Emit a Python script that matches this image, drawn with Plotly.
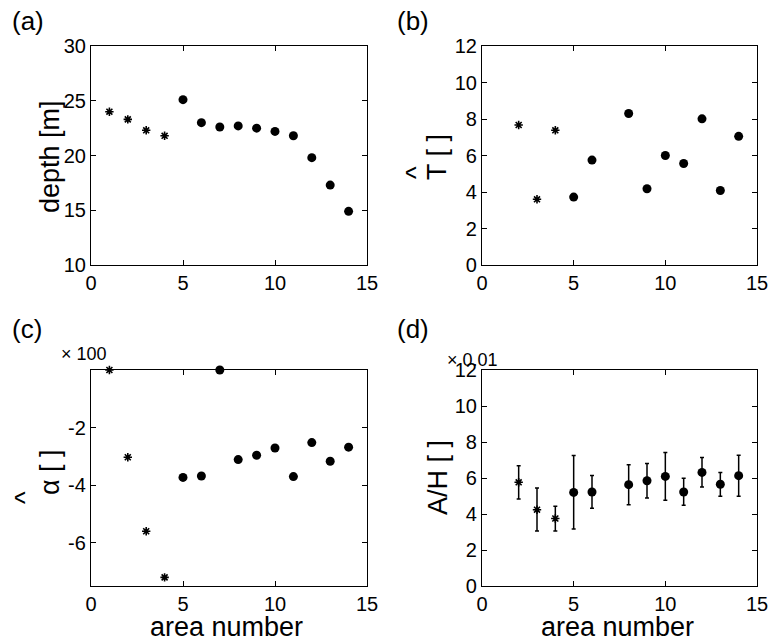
import plotly.graph_objects as go

# ---------------- data ----------------
area_a_star = [1, 2, 3, 4]
depth_star = [24.0, 23.3, 22.3, 21.8]
area_a_dot = [5, 6, 7, 8, 9, 10, 11, 12, 13, 14]
depth_dot = [25.1, 23.0, 22.6, 22.7, 22.5, 22.2, 21.8, 19.8, 17.3, 14.9]

area_b_star = [2, 3, 4]
T_star = [7.67, 3.6, 7.38]
area_b_dot = [5, 6, 8, 9, 10, 11, 12, 13, 14]
T_dot = [3.72, 5.75, 8.3, 4.18, 6.0, 5.56, 8.01, 4.08, 7.05]

area_c_star = [1, 2, 3, 4]
alpha_star = [0.0, -3.03, -5.6, -7.2]
area_c_dot = [5, 6, 7, 8, 9, 10, 11, 12, 13, 14]
alpha_dot = [-3.73, -3.68, 0.0, -3.11, -2.96, -2.71, -3.7, -2.52, -3.17, -2.68]

area_d_star = [2, 3, 4]
AH_star = [5.76, 4.24, 3.75]
AH_star_up = [0.92, 1.2, 0.68]
AH_star_dn = [0.93, 1.18, 0.69]
area_d_dot = [5, 6, 8, 9, 10, 11, 12, 13, 14]
AH_dot = [5.2, 5.22, 5.63, 5.85, 6.09, 5.22, 6.31, 5.65, 6.13]
AH_dot_up = [2.05, 0.92, 1.1, 0.96, 1.33, 0.76, 0.83, 0.66, 1.14]
AH_dot_dn = [2.04, 0.9, 1.11, 0.96, 1.33, 0.74, 0.81, 0.67, 1.15]

x_ticks = [0, 5, 10, 15]
alpha_ticks = [-6, -4, -2]
alpha_ticklabels = ["-6", "-4", "-2"]

W, H = 770, 641
FONT = "Liberation Sans, Arial, Helvetica, sans-serif"

def px(x):
    return x / W

def py(y):
    return 1 - y / H

fig = go.Figure()

star_marker = dict(symbol="asterisk-open", size=7, color="black",
                   line=dict(color="black", width=1.6))
dot_marker = dict(symbol="circle", size=9, color="black",
                  line=dict(color="black", width=0))

def add_pair(xs, ys, xd, yd, xa, ya, err=None):
    kw_s, kw_d = {}, {}
    if err is not None:
        su, sd, du, dd = err
        kw_s["error_y"] = dict(type="data", symmetric=False, array=su, arrayminus=sd,
                               color="black", thickness=1.5, width=2)
        kw_d["error_y"] = dict(type="data", symmetric=False, array=du, arrayminus=dd,
                               color="black", thickness=1.5, width=2)
    fig.add_trace(go.Scatter(x=xs, y=ys, mode="markers", marker=star_marker,
                             xaxis=xa, yaxis=ya, cliponaxis=False, showlegend=False, **kw_s))
    fig.add_trace(go.Scatter(x=xd, y=yd, mode="markers", marker=dot_marker,
                             xaxis=xa, yaxis=ya, cliponaxis=False, showlegend=False, **kw_d))

add_pair(area_a_star, depth_star, area_a_dot, depth_dot, "x", "y")
add_pair(area_b_star, T_star, area_b_dot, T_dot, "x2", "y2")
add_pair(area_c_star, alpha_star, area_c_dot, alpha_dot, "x3", "y3")
add_pair(area_d_star, AH_star, area_d_dot, AH_dot, "x4", "y4",
         err=(AH_star_up, AH_star_dn, AH_dot_up, AH_dot_dn))

left_dom = [px(91), px(367)]
right_dom = [px(482), px(757)]
top_dom = [py(265), py(46)]
bot_dom = [py(586), py(370)]

ax_common = dict(showgrid=False, zeroline=False, showline=True, linecolor="black",
                 linewidth=1.2, mirror="allticks", ticks="inside", ticklen=5,
                 tickcolor="black", tickwidth=1, automargin=False,
                 tickfont=dict(family=FONT, size=20, color="black"))

xax = dict(range=[0, 15], tickvals=x_ticks, **ax_common)

fig.update_layout(
    width=W, height=H,
    margin=dict(l=0, r=0, t=0, b=0, autoexpand=False),
    paper_bgcolor="white", plot_bgcolor="white",
    font=dict(family=FONT, color="black"),
    xaxis=dict(domain=left_dom, anchor="y", **xax),
    yaxis=dict(domain=top_dom, anchor="x", range=[10, 30],
               tickvals=[10, 15, 20, 25, 30], **ax_common),
    xaxis2=dict(domain=right_dom, anchor="y2", **xax),
    yaxis2=dict(domain=top_dom, anchor="x2", range=[0, 12],
                tickvals=[0, 2, 4, 6, 8, 10, 12], **ax_common),
    xaxis3=dict(domain=left_dom, anchor="y3", **xax),
    yaxis3=dict(domain=bot_dom, anchor="x3", range=[-7.5, 0],
                tickvals=alpha_ticks, ticktext=alpha_ticklabels, **ax_common),
    xaxis4=dict(domain=right_dom, anchor="y4", **xax),
    yaxis4=dict(domain=bot_dom, anchor="x4", range=[0, 12],
                tickvals=[0, 2, 4, 6, 8, 10, 12], **ax_common),
)

def ann(text, x, y, size, angle=0, xanchor="center", yanchor="middle"):
    fig.add_annotation(text=text, x=px(x), y=py(y), xref="paper", yref="paper",
                       showarrow=False, textangle=angle, xanchor=xanchor, yanchor=yanchor,
                       font=dict(family=FONT, size=size, color="black"))

# panel labels
ann("(a)", 10, 21, 26, xanchor="left")
ann("(b)", 395, 21, 26, xanchor="left")
ann("(c)", 10, 329, 26, xanchor="left")
ann("(d)", 395, 329, 26, xanchor="left")

# y-axis titles
ann("depth [m]", 50, 156, 27, angle=-90)
ann("T [ ]", 437, 157, 27, angle=-90)
ann("^", 416, 172, 27, angle=-90)
ann("α [ ]", 50, 472, 27, angle=-90)
ann("^", 25, 497, 27, angle=-90)
ann("A/H [ ]", 438, 478, 27, angle=-90)

# x-axis titles
ann("area number", 226, 627, 27)
ann("area number", 617, 627, 27)

# exponent labels
ann("× 100", 84, 354, 18)
ann("× 0.01", 472, 360, 18)

fig.write_html("out.html", config={"displayModeBar": False},
               post_script="document.body.style.margin='0';document.body.style.overflow='hidden';")
